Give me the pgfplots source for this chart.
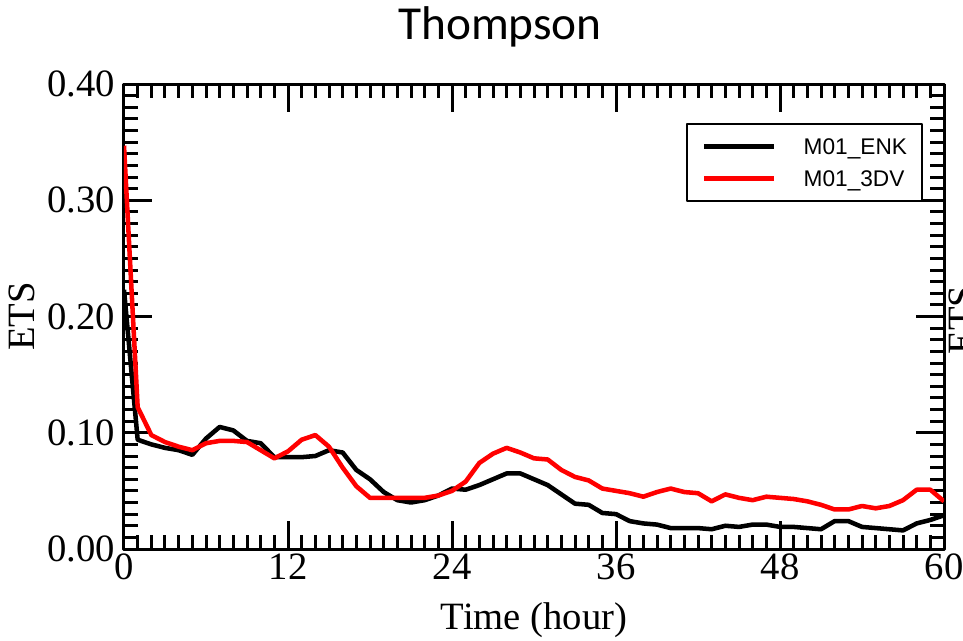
\documentclass[border=0pt]{standalone}
\usepackage{fontspec}
\setmainfont{Liberation Serif}
\newfontfamily\legendfont{Liberation Sans}
\newfontfamily\titlefont{Carlito}
\usepackage{pgfplots}
\pgfplotsset{compat=1.18}
\pgfplotstableread{
h y
0 0.223
1 0.094
2 0.090
3 0.087
4 0.085
5 0.081
6 0.095
7 0.105
8 0.102
9 0.093
10 0.091
11 0.079
12 0.079
13 0.079
14 0.080
15 0.085
16 0.083
17 0.068
18 0.060
19 0.049
20 0.042
21 0.040
22 0.042
23 0.046
24 0.052
25 0.051
26 0.055
27 0.060
28 0.065
29 0.065
30 0.060
31 0.055
32 0.047
33 0.039
34 0.038
35 0.031
36 0.030
37 0.024
38 0.022
39 0.021
40 0.018
41 0.018
42 0.018
43 0.017
44 0.020
45 0.019
46 0.021
47 0.021
48 0.019
49 0.019
50 0.018
51 0.017
52 0.024
53 0.024
54 0.019
55 0.018
56 0.017
57 0.016
58 0.022
59 0.025
60 0.029
}\enk
\pgfplotstableread{
h y
0 0.347
1 0.122
2 0.098
3 0.092
4 0.088
5 0.085
6 0.091
7 0.093
8 0.093
9 0.092
10 0.085
11 0.078
12 0.084
13 0.094
14 0.098
15 0.088
16 0.070
17 0.054
18 0.044
19 0.044
20 0.044
21 0.044
22 0.044
23 0.046
24 0.050
25 0.058
26 0.074
27 0.082
28 0.087
29 0.083
30 0.078
31 0.077
32 0.068
33 0.062
34 0.059
35 0.052
36 0.050
37 0.048
38 0.045
39 0.049
40 0.052
41 0.049
42 0.048
43 0.041
44 0.047
45 0.044
46 0.042
47 0.045
48 0.044
49 0.043
50 0.041
51 0.038
52 0.034
53 0.034
54 0.037
55 0.035
56 0.037
57 0.042
58 0.051
59 0.051
60 0.041
}\tdv
\begin{document}
\begin{tikzpicture}
\useasboundingbox (0,0) rectangle (722.25pt,480pt);
\clip (0,0) rectangle (722.25pt,480pt);
\node[font=\titlefont\fontsize{35.5}{40}\selectfont] at (375pt,459.75pt) {Thompson};
\node[rotate=90, anchor=north, inner sep=0pt, font=\fontsize{29}{32}\selectfont] at (711.5pt,240pt) {ETS};
\begin{axis}[
  at={(93pt,68.25pt)}, anchor=south west,
  scale only axis, width=615pt, height=348.75pt,
  xmin=0, xmax=60, ymin=0, ymax=0.4,
  xtick={0,12,24,36,48,60}, ytick={0,0.1,0.2,0.3,0.4},
  minor x tick num=11, minor y tick num=9,
  tick align=inside, xtick pos=both, ytick pos=both,
  major tick length=21pt, minor tick length=10.5pt,
  every tick/.style={line width=2.25pt, black},
  axis line style={line width=2.25pt},
  /pgf/number format/assume math mode=true,
  yticklabel style={xshift=-3pt, /pgf/number format/.cd, fixed, fixed zerofill, precision=2},
  ticklabel style={font=\fontsize{29}{32}\selectfont},
  label style={font=\fontsize{29}{32}\selectfont},
  xlabel={Time (hour)}, ylabel={ETS},
  xlabel shift=10pt, ylabel shift=3pt,
  legend cell align=left,
  legend image code/.code={\draw[#1] (0pt,0pt) -- (52.5pt,0pt);},
  legend style={at={(1,1)}, anchor=north east, xshift=-15.75pt, yshift=-29.25pt,
    draw=black, line width=1.5pt, inner xsep=11.25pt, inner ysep=11pt,
    font=\legendfont\fontsize{17}{20}\selectfont,
    nodes={inner sep=0pt, text height=12pt, text depth=0pt},
    column sep=20.25pt, row sep=12pt},
  line join=round,
]
\addplot[black, line width=3.4pt] table[x=h,y=y] {\enk};
\addlegendentry{M01\_ENK}
\addplot[red, line width=3.4pt] table[x=h,y=y] {\tdv};
\addlegendentry{M01\_3DV}
\end{axis}
\end{tikzpicture}
\end{document}
